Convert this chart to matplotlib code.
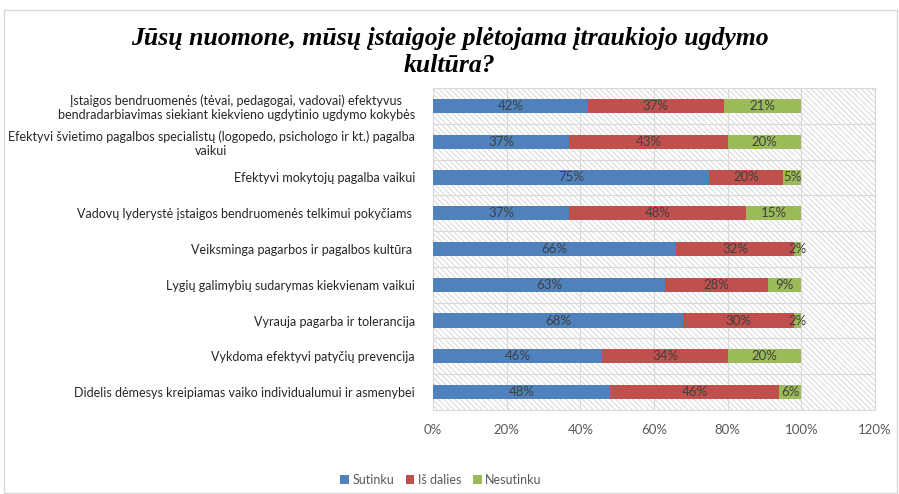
import matplotlib
matplotlib.use("Agg")
import matplotlib.pyplot as plt
from matplotlib.patches import Rectangle
import numpy as np

categories = [
    "Įstaigos bendruomenės (tėvai, pedagogai, vadovai) efektyvus\nbendradarbiavimas siekiant kiekvieno ugdytinio ugdymo kokybės",
    "Efektyvi švietimo pagalbos specialistų (logopedo, psichologo ir kt.) pagalba\nvaikui",
    "Efektyvi mokytojų pagalba vaikui",
    "Vadovų lyderystė įstaigos bendruomenės telkimui pokyčiams ",
    "Veiksminga pagarbos ir pagalbos kultūra ",
    "Lygių galimybių sudarymas kiekvienam vaikui",
    "Vyrauja pagarba ir tolerancija",
    "Vykdoma efektyvi patyčių prevencija",
    "Didelis dėmesys kreipiamas vaiko individualumui ir asmenybei",
]
sutinku = [42, 37, 75, 37, 66, 63, 68, 46, 48]
is_dalies = [37, 43, 20, 48, 32, 28, 30, 34, 46]
nesutinku = [21, 20, 5, 15, 2, 9, 2, 20, 6]
series_names = ["Sutinku", "Iš dalies", "Nesutinku"]
colors = ["#4f81bd", "#c0504d", "#9bbb59"]
xticks = [0, 20, 40, 60, 80, 100, 120]

plt.rcParams['font.family'] = ['Lato', 'DejaVu Sans']
plt.rcParams['hatch.color'] = '#d0d0d0'
plt.rcParams['hatch.linewidth'] = 0.6

fig = plt.figure(figsize=(8.99, 4.94), dpi=100)
# outer frame
fig.patches.append(Rectangle((4/899, 1/494), 893/899, 483/494, transform=fig.transFigure,
                             fill=False, edgecolor='#d9d9d9', linewidth=1.0))

ax = fig.add_axes([433/899, 1-410/494, 442/899, 322/494])
ax.set_xlim(0, 120)
ax.set_ylim(len(categories) - 0.5, -0.5)
ax.add_patch(Rectangle((0, -0.5), 120, len(categories), facecolor='white',
                       hatch='\\\\\\\\\\\\', edgecolor='#d0d0d0', linewidth=0, zorder=0))

y = np.arange(len(categories))
lefts = np.zeros(len(categories))
for vals, name, c in zip([sutinku, is_dalies, nesutinku], series_names, colors):
    vals = np.array(vals, dtype=float)
    ax.barh(y, vals, left=lefts, height=0.4, color=c, label=name, zorder=3)
    for yi, l, v in zip(y, lefts, vals):
        ax.text(l + v / 2, yi, f"{int(v)}%", ha='center', va='center',
                fontsize=9.5, color='#404040', zorder=4)
    lefts += vals

ax.set_xticks(xticks)
ax.set_xticklabels([f"{t}%" for t in xticks], fontsize=9.5, color='#595959')
ax.set_yticks(y)
ax.set_yticklabels(categories, fontsize=9, color='#262626', multialignment='center')
ax.set_yticks(np.arange(len(categories) + 1) - 0.5, minor=True)
ax.tick_params(axis='both', which='both', length=0)
ax.tick_params(axis='x', pad=10)
ax.tick_params(axis='y', pad=13)
ax.grid(axis='x', which='major', color='#d9d9d9', linewidth=0.8, zorder=1)
ax.grid(axis='y', which='minor', color='#d9d9d9', linewidth=0.8, zorder=1)
ax.set_axisbelow(True)
for s in ax.spines.values():
    s.set_color('#d9d9d9')
    s.set_linewidth(0.8)

fig.text(0.5, 1 - 52/494, "Jūsų nuomone, mūsų įstaigoje plėtojama įtraukiojo ugdymo\nkultūra?",
         ha='center', va='center', fontsize=18.5, fontweight='bold', fontstyle='italic',
         family=['Liberation Serif', 'DejaVu Serif'], linespacing=1.2)

fig.legend(loc='center', bbox_to_anchor=(441/899, 1 - 480/494), ncol=3, frameon=False,
           fontsize=9, handlelength=0.7, handleheight=0.7, columnspacing=0.9,
           handletextpad=0.3, labelcolor='#595959')

fig.savefig("out.png", dpi=100)
